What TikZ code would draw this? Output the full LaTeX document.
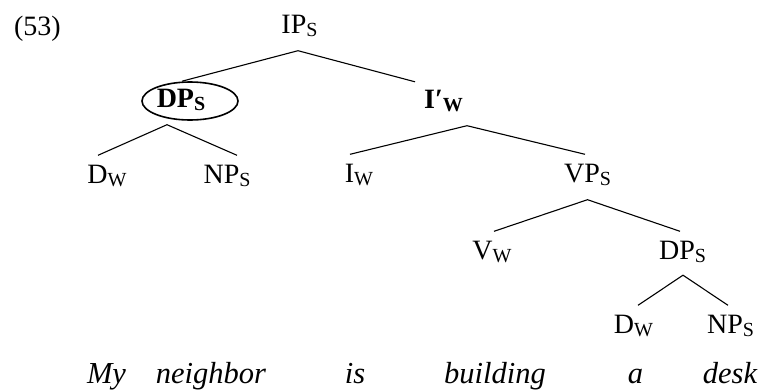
\documentclass[tikz,border=0pt]{standalone}
\usepackage{fontspec}
\setmainfont{Liberation Serif}
\usetikzlibrary{shapes.geometric,calc}
\newcommand\sbs[1]{\raisebox{-3.5pt}{\fontsize{20}{20}\selectfont #1}}
\begin{document}
\begin{tikzpicture}[x=1pt,y=-1pt,
  lbl/.style={anchor=base,inner xsep=0pt,inner ysep=7.5pt,text height=20pt,text depth=10pt,font=\fontsize{28}{30}\selectfont},
  word/.style={anchor=base,inner sep=0pt,font=\fontsize{30.5}{32}\selectfont\itshape},
  edge/.style={line width=1.1pt}]
\useasboundingbox (0,0) rectangle (761,389);
\node[anchor=base,inner sep=0pt,font=\fontsize{28}{30}\selectfont] (ex) at (37.5,35) {(53)};
\node[lbl] (ip) at (299.5,33) {IP\sbs{S}};
\node[lbl,font=\fontsize{28}{30}\selectfont\bfseries] (dpa) at (181,107) {DP\sbs{S}};
\node[draw,ellipse,line width=1.6pt,minimum width=96pt,minimum height=38pt,inner sep=0pt] (ell) at (190,101) {};
\node[lbl,font=\fontsize{28}{30}\selectfont\bfseries] (ib) at (443.5,108) {I\symbol{"2032}\sbs{W}};
\node[lbl] (dwa) at (107,183) {D\sbs{W}};
\node[lbl] (npa) at (227,183) {NP\sbs{S}};
\node[lbl] (iw) at (359,182) {I\sbs{W}};
\node[lbl] (vp) at (587.5,182) {VP\sbs{S}};
\node[lbl] (vw) at (492,259) {V\sbs{W}};
\node[lbl] (dpb) at (682.5,259) {DP\sbs{S}};
\node[lbl] (dwb) at (633.5,333) {D\sbs{W}};
\node[lbl] (npb) at (730.5,333) {NP\sbs{S}};
\draw[edge] ($(ell.north)+(-8,0)$) -- ($(ip.south)+(-1.5,0)$) -- ($(ib.north)+(-28.5,1.5)$);
\draw[edge] ($(dwa.north)+(-9,0)$) -- ($(dpa.south)+(-14,0)$) -- ($(npa.north)+(10,0)$);
\draw[edge] ($(iw.north)+(-9,0)$) -- ($(ib.south)+(23.5,0)$) -- ($(vp.north)+(-2.5,0)$);
\draw[edge] ($(vw.north)+(2,0)$) -- ($(vp.south)+(0,0)$) -- ($(dpb.north)+(-2.5,0)$);
\draw[edge] ($(dwb.north)+(4.5,0)$) -- ($(dpb.south)+(0.5,-1.5)$) -- ($(npb.north)+(-2.5,0)$);
\node[word] (w1) at (106.5,383) {My};
\node[word] (w2) at (211,383) {neighbor};
\node[word] (w3) at (355,383) {is};
\node[word] (w4) at (495,383) {building};
\node[word] (w5) at (635.5,383) {a};
\node[word] (w6) at (730,383) {desk};
\end{tikzpicture}
\end{document}
